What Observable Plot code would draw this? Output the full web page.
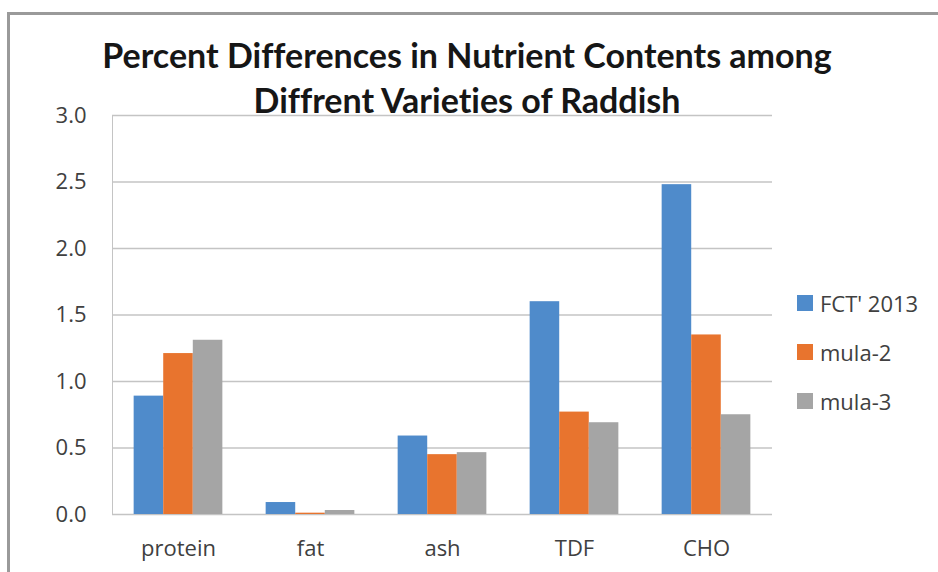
<!DOCTYPE html>
<html>
<head>
<meta charset="utf-8">
<script src="https://cdn.jsdelivr.net/npm/d3@7"></script>
<script src="https://cdn.jsdelivr.net/npm/@observablehq/plot@0.6"></script>
<style>
  html, body { margin: 0; padding: 0; background: #fff; }
  #wrap { position: relative; width: 938px; height: 572px; overflow: hidden; }
  #frame { position: absolute; left: 7px; top: 12px; width: 940px; height: 580px;
           border-top: 3px solid #9a9a9a; border-left: 3px solid #9a9a9a; box-sizing: border-box; }
  #title { position: absolute; left: 0; width: 934px; top: 32px; text-align: center;
           font-family: Lato, sans-serif; font-weight: 700; font-size: 34px; line-height: 45px; color: #161616;
           font-variant-ligatures: none; font-feature-settings: "liga" 0, "dlig" 0; }
  #legend { position: absolute; left: 797px; top: 278px; font-family: "Open Sans", sans-serif;
            font-size: 22px; color: #404040; }
  .li { height: 49px; display: flex; align-items: center; }
  .sw { width: 16px; height: 16px; margin-right: 7px; }
  #chart { position: absolute; left: 0; top: 0; }
  #yline { position: absolute; border-left: 1.2px solid #c4c4c4; }
</style>
</head>
<body>
<div id="wrap">
  <div id="chart"></div>
  <div id="yline"></div>
  <div id="frame"></div>
  <div id="title">Percent Differences in Nutrient Contents among<br>Diffrent Varieties of Raddish</div>
  <div id="legend"></div>
</div>
<script>
const categories = ["protein", "fat", "ash", "TDF", "CHO"];
const seriesNames = ["FCT' 2013", "mula-2", "mula-3"];
const fct2013 = [0.89, 0.09, 0.59, 1.60, 2.48];
const mula2   = [1.21, 0.01, 0.45, 0.77, 1.35];
const mula3   = [1.31, 0.03, 0.465, 0.69, 0.75];
const yTicks = [0, 0.5, 1.0, 1.5, 2.0, 2.5, 3.0];
const colors = ["#4f8bcb", "#e8742e", "#a5a5a5"];

const seriesValues = [fct2013, mula2, mula3];
const data = [];
seriesNames.forEach((s, si) => categories.forEach((c, ci) => data.push({cat: c, series: s, value: seriesValues[si][ci]})));

const W = 938, H = 572;
const mL = 112, mR = 166;
const band = (W - mL - mR) / categories.length;
const barW = band * 0.224;

const marks = [
  Plot.ruleY(yTicks, {stroke: "#c4c4c4", strokeWidth: 1.5})
];
seriesNames.forEach((s, si) => {
  const inset = (band - barW) / 2;
  marks.push(Plot.barY(data.filter(d => d.series === s), {
    x: "cat", y: "value", fill: colors[si],
    insetLeft: inset, insetRight: inset, dx: (si - 1) * barW
  }));
});

const chart = Plot.plot({
  width: W, height: H,
  marginTop: 115, marginBottom: 58, marginLeft: mL, marginRight: mR,
  style: {fontFamily: "'Open Sans', sans-serif", fontSize: "22px", color: "#404040", background: "transparent"},
  x: {domain: categories, padding: 0, label: null, tickSize: 0, tickPadding: 26},
  y: {domain: [0, 3], ticks: yTicks, tickFormat: d3.format(".1f"), label: null, tickSize: 0, tickPadding: 26},
  marks
});
document.getElementById("chart").appendChild(chart);

// left axis line from the y scale
const ys = chart.scale("y");
const yl = document.getElementById("yline");
const yTop = ys.apply(3), yBot = ys.apply(0);
yl.style.left = (mL - 0.5) + "px";
yl.style.top = yTop + "px";
yl.style.height = (yBot - yTop) + "px";

const legend = document.getElementById("legend");
seriesNames.forEach((s, i) => {
  const row = document.createElement("div");
  row.className = "li";
  const sw = document.createElement("div");
  sw.className = "sw";
  sw.style.background = colors[i];
  const t = document.createElement("span");
  t.textContent = s;
  row.appendChild(sw); row.appendChild(t);
  legend.appendChild(row);
});
</script>
</body>
</html>
